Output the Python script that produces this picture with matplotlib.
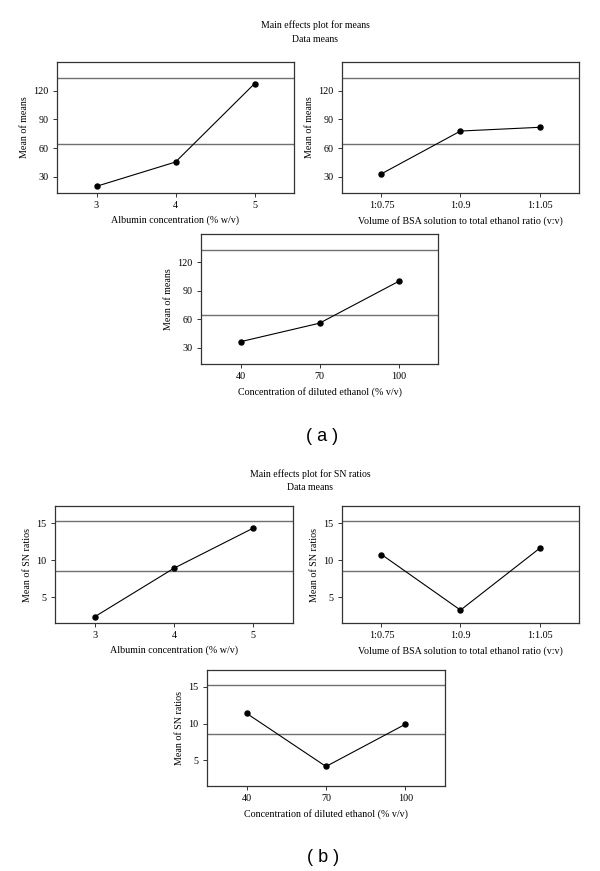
import matplotlib
matplotlib.use("Agg")
import matplotlib.pyplot as plt

plt.rcParams['font.family'] = ['Liberation Serif', 'DejaVu Serif']
plt.rcParams['font.size'] = 7

# Data
albumin = [3, 4, 5]
bsa_ratio = ['1:0.75', '1:0.9', '1:1.05']
ethanol = [40, 70, 100]

means_albumin = [20.0, 45.4, 127.3]
means_ratio = [33.1, 77.8, 81.7]
means_ethanol = [36.5, 56.0, 100.0]
means_grand = 64.2
means_top = 133.6
means_yticks = [30, 60, 90, 120]

sn_albumin = [2.34, 8.9, 14.32]
sn_ratio = [10.75, 3.24, 11.57]
sn_ethanol = [11.39, 4.16, 9.91]
sn_grand = 8.52
sn_top = 15.27
sn_yticks = [5, 10, 15]

xlabels = ['Albumin concentration (% w/v)',
           'Volume of BSA solution to total ethanol ratio (v:v)',
           'Concentration of diluted ethanol (% v/v)']

W, H = 600, 871
fig = plt.figure(figsize=(6, 8.71), dpi=100)


def panel(rect, ticklabels, values, grand, top, yticks, ylim, ylabel, xlabel):
    l, t, w, h = rect
    ax = fig.add_axes([l / W, 1 - (t + h) / H, w / W, h / H])
    xs = list(range(len(values)))
    ax.axhline(top, color='#707070', lw=1.0)
    ax.axhline(grand, color='#707070', lw=1.0)
    ax.plot(xs, values, color='black', lw=0.8, marker='o', ms=3.6, zorder=3)
    ax.set_xlim(-0.5, len(values) - 0.5)
    ax.set_ylim(*ylim)
    ax.set_xticks(xs)
    ax.set_xticklabels([str(v) for v in ticklabels])
    ax.set_yticks(yticks)
    ax.tick_params(length=3, width=0.7, color='#333333', pad=3, labelsize=7.3)
    for s in ax.spines.values():
        s.set_color('#333333')
        s.set_linewidth(0.9)
    ax.set_ylabel(ylabel, fontsize=7.2, labelpad=3)
    ax.set_xlabel(xlabel, fontsize=7.2, labelpad=4)
    return ax


# (a) means
ylim_a = (13, 150)
panel((57, 62, 237, 131), albumin, means_albumin, means_grand, means_top,
      means_yticks, ylim_a, 'Mean of means', xlabels[0])
panel((342, 62, 237, 131), bsa_ratio, means_ratio, means_grand, means_top,
      means_yticks, ylim_a, 'Mean of means', xlabels[1])
panel((201, 234, 237, 130), ethanol, means_ethanol, means_grand, means_top,
      means_yticks, ylim_a, 'Mean of means', xlabels[2])

fig.text(315 / W, 1 - 25 / H, 'Main effects plot for means', ha='center', va='center', fontsize=7)
fig.text(315 / W, 1 - 39 / H, 'Data means', ha='center', va='center', fontsize=7)
fig.text(322 / W, 1 - 436 / H, '( a )', ha='center', va='center', fontsize=13,
         family=['Liberation Sans', 'DejaVu Sans'])

# (b) SN ratios
ylim_b = (1.5, 17.3)
panel((55, 506, 238, 117), albumin, sn_albumin, sn_grand, sn_top,
      sn_yticks, ylim_b, 'Mean of SN ratios', xlabels[0])
panel((342, 506, 237, 117), bsa_ratio, sn_ratio, sn_grand, sn_top,
      sn_yticks, ylim_b, 'Mean of SN ratios', xlabels[1])
panel((207, 670, 238, 116), ethanol, sn_ethanol, sn_grand, sn_top,
      sn_yticks, ylim_b, 'Mean of SN ratios', xlabels[2])

fig.text(310 / W, 1 - 474 / H, 'Main effects plot for SN ratios', ha='center', va='center', fontsize=7)
fig.text(310 / W, 1 - 487 / H, 'Data means', ha='center', va='center', fontsize=7)
fig.text(323 / W, 1 - 857 / H, '( b )', ha='center', va='center', fontsize=13,
         family=['Liberation Sans', 'DejaVu Sans'])

fig.savefig('out.png', dpi=100)
